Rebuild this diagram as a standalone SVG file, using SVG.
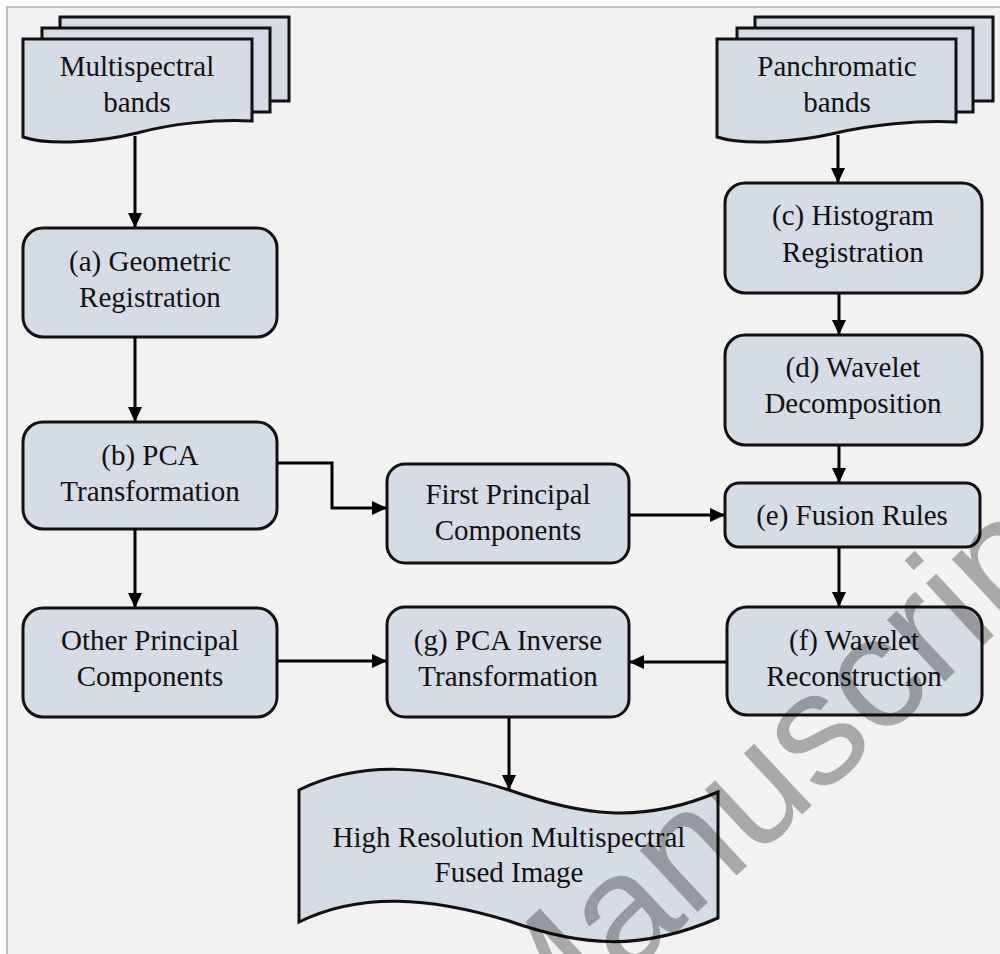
<svg xmlns="http://www.w3.org/2000/svg" width="1000" height="954" viewBox="0 0 1000 954">
<style>
.box{fill:#d6dce5;stroke:#111;stroke-width:3}
.t{font-family:"Liberation Serif","Times New Roman",serif;font-size:29px;fill:#111;text-anchor:middle}
.c{fill:none;stroke:#000;stroke-width:3}
</style>
<defs>
<marker id="ah" markerUnits="userSpaceOnUse" markerWidth="16" markerHeight="15" refX="15" refY="7" orient="auto">
<path d="M0,0 L15,7 L0,14 Z" fill="#000"/>
</marker>
</defs>
<rect x="0" y="0" width="1000" height="954" fill="#ffffff"/>
<rect x="7" y="7" width="1000" height="960" fill="#f2f2f2" stroke="#bfbfbf" stroke-width="2"/>

<g id="connectors">
<line class="c" x1="135" y1="136" x2="135" y2="228" marker-end="url(#ah)"/>
<line class="c" x1="135" y1="337" x2="135" y2="422" marker-end="url(#ah)"/>
<line class="c" x1="135" y1="529" x2="135" y2="608" marker-end="url(#ah)"/>
<polyline class="c" points="277,463 332,463 332,508 387,508" marker-end="url(#ah)"/>
<line class="c" x1="629" y1="515" x2="725" y2="515" marker-end="url(#ah)"/>
<line class="c" x1="838" y1="135" x2="838" y2="183" marker-end="url(#ah)"/>
<line class="c" x1="839" y1="293" x2="839" y2="335" marker-end="url(#ah)"/>
<line class="c" x1="839" y1="445" x2="839" y2="483" marker-end="url(#ah)"/>
<line class="c" x1="839" y1="547" x2="839" y2="607" marker-end="url(#ah)"/>
<line class="c" x1="727" y1="662" x2="629" y2="662" marker-end="url(#ah)"/>
<line class="c" x1="277" y1="661" x2="387" y2="661" marker-end="url(#ah)"/>
<line class="c" x1="509" y1="717" x2="509" y2="790" marker-end="url(#ah)"/>
</g>

<g id="multispectral">
<rect class="box" x="60" y="17" width="229" height="84"/>
<rect class="box" x="42" y="28" width="228" height="84"/>
<path class="box" d="M23,39 H252 V121 C215,119 170,124 137,133 C100,142 50,146 23,137 Z"/>
<text class="t" x="137" y="76">Multispectral</text>
<text class="t" x="137" y="112">bands</text>
</g>

<g id="panchromatic">
<rect class="box" x="755" y="17" width="238" height="84"/>
<rect class="box" x="737" y="28" width="236" height="84"/>
<path class="box" d="M717,39 H956 V122 C917,120 870,125 836,133 C797,142 745,146 717,137 Z"/>
<text class="t" x="837" y="76">Panchromatic</text>
<text class="t" x="837" y="112">bands</text>
</g>

<g id="node-a">
<rect class="box" x="23" y="228" width="254" height="109" rx="20"/>
<text class="t" x="150" y="271">(a) Geometric</text>
<text class="t" x="150" y="307">Registration</text>
</g>

<g id="node-b">
<rect class="box" x="23" y="422" width="254" height="107" rx="20"/>
<text class="t" x="150" y="465">(b) PCA</text>
<text class="t" x="150" y="501">Transformation</text>
</g>

<g id="node-first">
<rect class="box" x="387" y="464" width="242" height="99" rx="18"/>
<text class="t" x="508" y="504">First Principal</text>
<text class="t" x="508" y="540">Components</text>
</g>

<g id="node-other">
<rect class="box" x="23" y="608" width="254" height="109" rx="20"/>
<text class="t" x="150" y="650">Other Principal</text>
<text class="t" x="150" y="686">Components</text>
</g>

<g id="node-c">
<rect class="box" x="725" y="183" width="257" height="110" rx="20"/>
<text class="t" x="853" y="225">(c) Histogram</text>
<text class="t" x="853" y="262">Registration</text>
</g>

<g id="node-d">
<rect class="box" x="725" y="335" width="257" height="110" rx="20"/>
<text class="t" x="853" y="377">(d) Wavelet</text>
<text class="t" x="853" y="413">Decomposition</text>
</g>

<g id="node-e">
<rect class="box" x="725" y="483" width="255" height="64" rx="14"/>
<text class="t" x="852" y="525">(e) Fusion Rules</text>
</g>

<g id="node-f">
<rect class="box" x="727" y="607" width="255" height="108" rx="20"/>
<text class="t" x="854" y="650">(f) Wavelet</text>
<text class="t" x="854" y="686">Reconstruction</text>
</g>

<g id="node-g">
<rect class="box" x="387" y="607" width="242" height="110" rx="18"/>
<text class="t" x="508" y="650">(g) PCA Inverse</text>
<text class="t" x="508" y="686">Transformation</text>
</g>

<g id="node-output">
<path class="box" d="M299,790 C360,760 430,765 509,790 C580,815 640,825 718,792 V918 C640,952 580,946 509,921 C430,897 360,892 299,922 Z"/>
<text class="t" x="509" y="847">High Resolution Multispectral</text>
<text class="t" x="509" y="882">Fused Image</text>
</g>

<text transform="translate(527,1071) rotate(-43)" x="0" y="0" font-family="Liberation Sans, Arial, sans-serif" font-size="160" fill="#000" fill-opacity="0.3">Manuscript</text>
</svg>
